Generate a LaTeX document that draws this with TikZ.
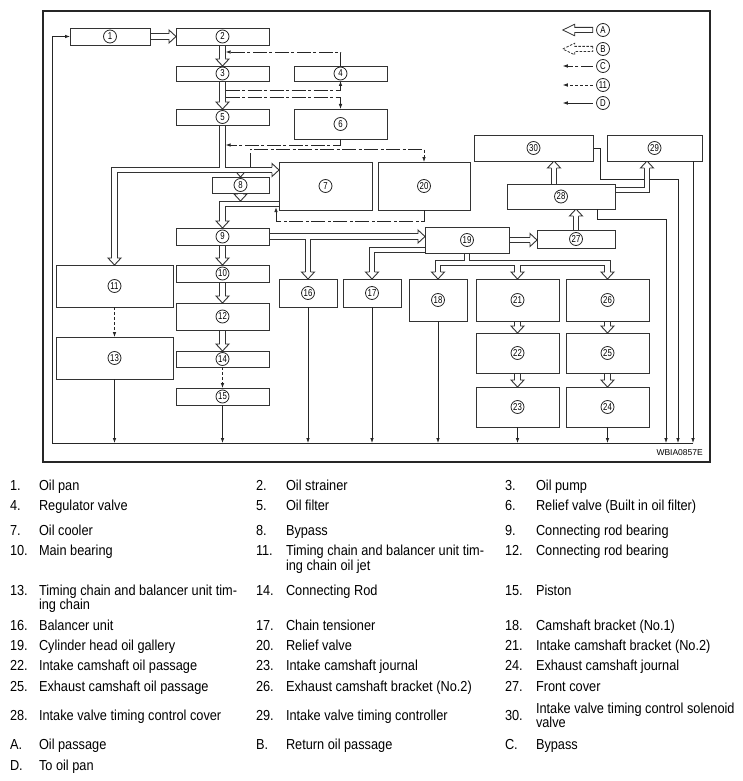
\documentclass[tikz,border=0pt]{standalone}
\usepackage{fontspec}
\setmainfont{Liberation Sans}
\newfontfamily\listfont[FakeStretch=0.88]{Liberation Sans}
\newfontfamily\numfont[FakeStretch=0.78]{Liberation Sans}
\usetikzlibrary{arrows.meta}
\pgfdeclarelayer{bg}
\pgfsetlayers{bg,main}
\tikzset{
 box/.style={rectangle, draw=black!80, line width=0.8pt, fill=white, inner sep=0pt, outer sep=0pt},
 cnum/.style={circle, draw=black!85, line width=0.8pt, minimum size=13pt, inner sep=0pt, outer sep=0pt, font=\numfont\fontsize{10}{10}\selectfont},
 pipeblack/.style={draw=black!80, line width=6.2pt, line cap=butt, line join=miter},
 pipewhite/.style={draw=white, line width=4.4pt, line cap=butt, line join=miter},
 headst/.style={draw=black!80, fill=white, line width=0.9pt, line join=miter},
 thinl/.style={draw=black!85, line width=0.8pt},
 drain/.style={thinl, -{Latex[length=5pt,width=3.6pt]}},
 bypassl/.style={drain, dash pattern=on 14pt off 2.5pt on 3pt off 2.5pt},
 dashl/.style={drain, dash pattern=on 3pt off 2pt},
 lt/.style={anchor=base west, inner sep=0pt, outer sep=0pt, font=\listfont\fontsize{14.5}{15}\selectfont},
 codest/.style={anchor=east, inner sep=0pt, font=\fontsize{8.5}{9}\selectfont},
}
\newcommand\bx[6]{%
 \node[box, minimum width={(#4)-(#2)}, minimum height={(#5)-(#3)}] (#1) at ({((#2)+(#4))/2},{((#3)+(#5))/2}) {};
 \node[cnum] (c#1) at (#1.center) {#6};}
\newcommand\ohead[2]{%
 \begin{scope}[shift={#1},rotate=#2]
 \filldraw[headst] (-7,2.65) -- (-7,6.5) -- (0,0) -- (-7,-6.5) -- (-7,-2.65);
 \end{scope}}
\newcommand\pipeset[1]{%
 \draw[#1, shorten >=4pt] (b1.east) -- (b2.west);
 \draw[#1, shorten >=4pt] (b2.south) -- (b3.north);
 \draw[#1, shorten >=4pt] (b3.south) -- (b5.north);
 \draw[#1] (b5.south) -- (J1);
 \draw[#1, shorten >=4pt] (J1) -| (b11.north);
 \draw[#1, shorten >=4pt] (J1) -- (b7.west |- J1);
 \draw[#1, shorten >=4pt] ([yshift=-18pt]b7.west) -| (b9.north);
 \draw[#1, shorten >=4pt] (b8.south) -- (h8);
 \draw[#1, shorten >=4pt] (b9.south) -- (b10.north);
 \draw[#1, shorten >=4pt] (b10.south) -- (b12.north);
 \draw[#1, shorten >=4pt] (b12.south) -- (b14.north);
 \draw[#1, shorten >=4pt] (b9.east) -- (b9.east -| b19.west);
 \draw[#1, shorten >=4pt] (b9.east -| b16.north) -- (b16.north);
 \draw[#1, shorten >=4pt] ([yshift=-10pt]b19.west) -| (b17.north);
 \draw[#1] (b19.south) -- (J2);
 \draw[#1, shorten >=4pt] (J2) -| (b18.north);
 \draw[#1, shorten >=4pt] (J2) -| (b26.north);
 \draw[#1, shorten >=4pt] (J2 -| b21.north) -- (b21.north);
 \draw[#1, shorten >=4pt] (b19.east) -- (b19.east -| b27.west);
 \draw[#1, shorten >=4pt] (b27.north) -- (b27.north |- b28.south);
 \draw[#1, shorten >=4pt] ([xshift=-7pt]b28.north) -- ([xshift=-7pt]b28.north |- b30.south);
 \draw[#1, shorten >=4pt] ([yshift=6.5pt]b28.east) -| ([xshift=-7.5pt]b29.south);
 \draw[#1, shorten >=4pt] (b21.south) -- (b22.north);
 \draw[#1, shorten >=4pt] (b22.south) -- (b23.north);
 \draw[#1, shorten >=4pt] (b26.south) -- (b25.north);
 \draw[#1, shorten >=4pt] (b25.south) -- (b24.north);
}
\begin{document}
\begin{tikzpicture}[x=1pt,y=-1pt]
\useasboundingbox (0,0) rectangle (742,781);
\draw[line width=1.6pt, black!85] (43,11) rectangle (710,462);
% boxes
\bx{b1}{70}{28}{150}{45}{1}
\bx{b2}{176}{28}{269}{45}{2}
\bx{b3}{176}{66}{269}{81}{3}
\bx{b4}{294}{66}{387}{81}{4}
\bx{b5}{176}{109}{269}{125}{5}
\bx{b6}{294}{109}{387}{139}{6}
\bx{b7}{279}{162}{372}{210}{7}
\bx{b20}{378}{162}{470}{210}{20}
\bx{b8}{212}{177}{269}{193}{8}
\bx{b9}{176}{228}{269}{245}{9}
\bx{b10}{176}{265}{269}{282}{10}
\bx{b11}{56}{265}{173}{307}{11}
\bx{b12}{176}{303}{269}{330}{12}
\bx{b13}{56}{337}{173}{379}{13}
\bx{b14}{176}{351}{269}{367}{14}
\bx{b15}{176}{388}{269}{405}{15}
\bx{b16}{279}{279}{337}{307}{16}
\bx{b17}{343}{279}{401}{307}{17}
\bx{b18}{409}{279}{467}{321}{18}
\bx{b19}{425}{227}{509}{253}{19}
\bx{b27}{537}{230}{615}{248}{27}
\bx{b28}{507}{184}{615}{209}{28}
\bx{b30}{474}{135}{593}{161}{30}
\bx{b29}{607}{135}{702}{161}{29}
\bx{b21}{476}{279}{559}{321}{21}
\bx{b26}{566}{279}{649}{321}{26}
\bx{b22}{476}{333}{559}{373}{22}
\bx{b25}{566}{333}{649}{373}{25}
\bx{b23}{476}{387}{559}{427}{23}
\bx{b24}{566}{387}{649}{427}{24}
% junction coordinates
\coordinate (J1) at (222.5,170);
\coordinate (J2) at (467,263);
\coordinate (h8) at ([yshift=-8pt]b8.south);
\coordinate (bl) at (52,443);
\coordinate (br) at (693,443);
% oil passages
\begin{pgfonlayer}{bg}
 \draw[drain] (b30.east) -- (600,148) -- (600,179) -- (678,179) -- (678,443);
 \pipeset{pipeblack}
 \pipeset{pipewhite}
 \ohead{(b2.west)}{0}
 \ohead{(b3.north)}{-90}
 \ohead{(b5.north)}{-90}
 \ohead{(b11.north)}{-90}
 \ohead{(b7.west |- J1)}{0}
 \filldraw[headst] ([xshift=-3.5pt,yshift=4pt]b8.north) -- (b8.north) -- ([xshift=3.5pt,yshift=4pt]b8.north);
 \ohead{(b9.north)}{-90}
 \ohead{(h8)}{-90}
 \ohead{(b10.north)}{-90}
 \ohead{(b12.north)}{-90}
 \ohead{(b14.north)}{-90}
 \ohead{(b9.east -| b19.west)}{0}
 \ohead{(b16.north)}{-90}
 \ohead{(b17.north)}{-90}
 \ohead{(b18.north)}{-90}
 \ohead{(b21.north)}{-90}
 \ohead{(b26.north)}{-90}
 \ohead{(b19.east -| b27.west)}{0}
 \ohead{(b27.north |- b28.south)}{90}
 \ohead{([xshift=-7pt]b28.north |- b30.south)}{90}
 \ohead{([xshift=-7.5pt]b29.south)}{90}
 \ohead{(b22.north)}{-90}
 \ohead{(b23.north)}{-90}
 \ohead{(b25.north)}{-90}
 \ohead{(b24.north)}{-90}
\end{pgfonlayer}
% return to oil pan
\draw[drain] (br) -- (bl) -- (bl |- b1.west) -- (b1.west);
\draw[drain] (b13.south) -- (b13.south |- bl);
\draw[drain] (b15.south) -- (b15.south |- bl);
\draw[drain] (b16.south) -- (b16.south |- bl);
\draw[drain] (b17.south) -- (b17.south |- bl);
\draw[drain] (b18.south) -- (b18.south |- bl);
\draw[drain] (b23.south) -- (b23.south |- bl);
\draw[drain] (b24.south) -- (b24.south |- bl);
\draw[drain] ([xshift=36pt]b28.south) |- (666,219) -- (666,443);
\draw[drain] ([xshift=38.5pt]b29.south) -- ([xshift=38.5pt]b29.south |- bl);
% bypass lines
\draw[bypassl] (b4.north) |- (225.6,52);
\draw[bypassl] (225.6,90) -| (b4.south);
\draw[bypassl] (225.6,97) -| (b6.north);
\draw[bypassl] (b6.south) |- (225.6,145);
\draw[bypassl] (250,166.9) |- (b20.north |- 0,149) -- (b20.north);
\draw[bypassl] (b20.south) |- (276,221) -- (276,207.1);
% jets
\draw[dashl] (b11.south) -- (b13.north);
\draw[dashl] (b14.south) -- (b15.north);
% legend
\node[cnum] (lgA) at (603,30) {A};
\node[cnum] (lgB) at (603,49) {B};
\node[cnum] (lgC) at (603,66) {C};
\node[cnum] (lgE) at (603,85) {11};
\node[cnum] (lgD) at (603,103) {D};
\draw[draw=black!80, line width=0.8pt, line join=miter] ([xshift=-3.75pt,yshift=2.6pt]lgA.west) -- ++(-18,0) -- ++(0,-3.2) -- ++(-12,5.8) -- ++(12,5.8) -- ++(0,-3.2) -- ++(18,0) -- cycle;
\draw[draw=black!80, line width=0.8pt, line join=miter, dash pattern=on 2.5pt off 1.5pt] ([xshift=-3.75pt,yshift=2.6pt]lgB.west) -- ++(-18,0) -- ++(0,-3.2) -- ++(-12,5.8) -- ++(12,5.8) -- ++(0,-3.2) -- ++(18,0) -- cycle;
\draw[bypassl, dash pattern=on 12pt off 2.5pt on 3pt off 2.5pt] ([xshift=-3.75pt]lgC.west) -- ++(-30,0);
\draw[dashl] ([xshift=-3.75pt]lgE.west) -- ++(-30,0);
\draw[drain] ([xshift=-3.75pt]lgD.west) -- ++(-30,0);
\node[codest] (code) at (703,453) {WBIA0857E};
% list
\node[lt] (n1) at (10,490) {1.};   \node[lt] (t1) at (39,490) {Oil pan};
\node[lt] (n2) at (256,490) {2.};  \node[lt] (t2) at (286,490) {Oil strainer};
\node[lt] (n3) at (505,490) {3.};  \node[lt] (t3) at (536,490) {Oil pump};
\node[lt] (n4) at (10,510) {4.};   \node[lt] (t4) at (39,510) {Regulator valve};
\node[lt] (n5) at (256,510) {5.};  \node[lt] (t5) at (286,510) {Oil filter};
\node[lt] (n6) at (505,510) {6.};  \node[lt] (t6) at (536,510) {Relief valve (Built in oil filter)};
\node[lt] (n7) at (10,535) {7.};   \node[lt] (t7) at (39,535) {Oil cooler};
\node[lt] (n8) at (256,535) {8.};  \node[lt] (t8) at (286,535) {Bypass};
\node[lt] (n9) at (505,535) {9.};  \node[lt] (t9) at (536,535) {Connecting rod bearing};
\node[lt] (n10) at (10,555) {10.}; \node[lt] (t10) at (39,555) {Main bearing};
\node[lt] (n11) at (256,555) {11.}; \node[lt] (t11) at (286,555) {Timing chain and balancer unit tim-};
\node[lt] (t11b) at (286,570) {ing chain oil jet};
\node[lt] (n12) at (505,555) {12.}; \node[lt] (t12) at (536,555) {Connecting rod bearing};
\node[lt] (n13) at (10,595) {13.}; \node[lt] (t13) at (39,595) {Timing chain and balancer unit tim-};
\node[lt] (t13b) at (39,609) {ing chain};
\node[lt] (n14) at (256,595) {14.}; \node[lt] (t14) at (286,595) {Connecting Rod};
\node[lt] (n15) at (505,595) {15.}; \node[lt] (t15) at (536,595) {Piston};
\node[lt] (n16) at (10,630) {16.}; \node[lt] (t16) at (39,630) {Balancer unit};
\node[lt] (n17) at (256,630) {17.}; \node[lt] (t17) at (286,630) {Chain tensioner};
\node[lt] (n18) at (505,630) {18.}; \node[lt] (t18) at (536,630) {Camshaft bracket (No.1)};
\node[lt] (n19) at (10,650) {19.}; \node[lt] (t19) at (39,650) {Cylinder head oil gallery};
\node[lt] (n20) at (256,650) {20.}; \node[lt] (t20) at (286,650) {Relief valve};
\node[lt] (n21) at (505,650) {21.}; \node[lt] (t21) at (536,650) {Intake camshaft bracket (No.2)};
\node[lt] (n22) at (10,670) {22.}; \node[lt] (t22) at (39,670) {Intake camshaft oil passage};
\node[lt] (n23) at (256,670) {23.}; \node[lt] (t23) at (286,670) {Intake camshaft journal};
\node[lt] (n24) at (505,670) {24.}; \node[lt] (t24) at (536,670) {Exhaust camshaft journal};
\node[lt] (n25) at (10,691) {25.}; \node[lt] (t25) at (39,691) {Exhaust camshaft oil passage};
\node[lt] (n26) at (256,691) {26.}; \node[lt] (t26) at (286,691) {Exhaust camshaft bracket (No.2)};
\node[lt] (n27) at (505,691) {27.}; \node[lt] (t27) at (536,691) {Front cover};
\node[lt] (n28) at (10,720) {28.}; \node[lt] (t28) at (39,720) {Intake valve timing control cover};
\node[lt] (n29) at (256,720) {29.}; \node[lt] (t29) at (286,720) {Intake valve timing controller};
\node[lt] (n30) at (505,720) {30.}; \node[lt] (t30) at (536,713) {Intake valve timing control solenoid};
\node[lt] (t30b) at (536,727) {valve};
\node[lt] (nA) at (10,749) {A.};   \node[lt] (tA) at (39,749) {Oil passage};
\node[lt] (nB) at (256,749) {B.};  \node[lt] (tB) at (286,749) {Return oil passage};
\node[lt] (nC) at (505,749) {C.};  \node[lt] (tC) at (536,749) {Bypass};
\node[lt] (nD) at (10,770) {D.};   \node[lt] (tD) at (39,770) {To oil pan};
\end{tikzpicture}
\end{document}
